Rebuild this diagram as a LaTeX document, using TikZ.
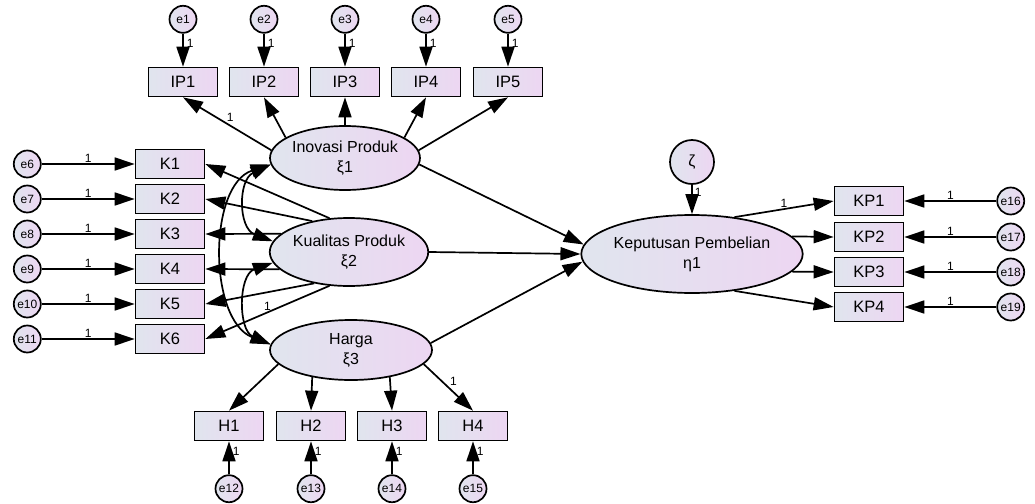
\documentclass[tikz,border=0pt]{standalone}
\usepackage{fontspec}
\setmainfont{Liberation Sans}
\usetikzlibrary{arrows.meta,positioning,shapes.geometric}
\definecolor{fillL}{RGB}{224,229,238}
\definecolor{fillR}{RGB}{237,214,242}
\tikzset{obs/.style={rectangle,draw=black,line width=1.7pt,left color=fillL,right color=fillR,minimum width=69pt,minimum height=29pt,inner sep=0pt,font=\fontsize{16.5}{18}\selectfont},
		lat/.style={ellipse,draw=black,line width=1.7pt,left color=fillL,right color=fillR,inner sep=0pt,align=center,font=\fontsize{16}{20}\selectfont},
		err/.style={circle,draw=black,line width=1.7pt,left color=fillL,right color=fillR,minimum size=27pt,inner sep=0pt,font=\fontsize{12}{12}\selectfont},
		post/.style={-{Triangle[length=20pt,width=13pt]},line width=1.7pt},
		cov/.style={{Triangle[length=20pt,width=13pt]}-{Triangle[length=20pt,width=13pt]},line width=1.7pt},
		one/.style={font=\fontsize{12}{12}\selectfont,inner sep=1pt}}
\begin{document}
\begin{tikzpicture}[x=1pt,y=-1pt]
		\useasboundingbox (0,0) rectangle (1035,503);
		% latent variables
		\node[lat,minimum width=150pt,minimum height=64pt] (inovasi-produk) at (345,158) {Inovasi Produk\\ξ1};
		\node[lat,minimum width=158pt,minimum height=68pt] (kualitas-produk) at (349,252) {Kualitas Produk\\ξ2};
		\node[lat,minimum width=162pt,minimum height=60pt] (harga) at (351,350) {Harga\\ξ3};
		\node[lat,minimum width=214pt,minimum height=78pt] (keputusan-pembelian) at (692,254) {Keputusan Pembelian\\η1};
		\node[err,minimum size=44pt,font=\fontsize{16}{16}\selectfont] (zeta) at (692,162) {ζ};
		
		% indicators
		\node[obs] (ip1) at (183,82) {IP1};
		\node[obs] (ip2) at (264,82) {IP2};
		\node[obs] (ip3) at (345,82) {IP3};
		\node[obs] (ip4) at (426,82) {IP4};
		\node[obs] (ip5) at (508,82) {IP5};
		\node[obs] (k1) at (170,164) {K1};
		\node[obs] (k2) at (170,199) {K2};
		\node[obs] (k3) at (170,234) {K3};
		\node[obs] (k4) at (170,269) {K4};
		\node[obs] (k5) at (170,304) {K5};
		\node[obs] (k6) at (170,339) {K6};
		\node[obs] (h1) at (229,426) {H1};
		\node[obs] (h2) at (311,426) {H2};
		\node[obs] (h3) at (392,426) {H3};
		\node[obs] (h4) at (473,426) {H4};
		\node[obs] (kp1) at (869,201) {KP1};
		\node[obs] (kp2) at (869,237) {KP2};
		\node[obs] (kp3) at (869,272) {KP3};
		\node[obs] (kp4) at (869,307) {KP4};
		
		% error terms
		\node[err] (e1) [above=33pt of ip1] {e1} edge[post] node[one,pos=0.3,right,xshift=2pt] {1} (ip1);
		\node[err] (e2) [above=33pt of ip2] {e2} edge[post] node[one,pos=0.3,right,xshift=2pt] {1} (ip2);
		\node[err] (e3) [above=33pt of ip3] {e3} edge[post] node[one,pos=0.3,right,xshift=2pt] {1} (ip3);
		\node[err] (e4) [above=33pt of ip4] {e4} edge[post] node[one,pos=0.3,right,xshift=2pt] {1} (ip4);
		\node[err] (e5) [above=33pt of ip5] {e5} edge[post] node[one,pos=0.3,right,xshift=2pt] {1} (ip5);
		\node[err] (e6) [left=93pt of k1] {e6} edge[post] node[one,midway,above] {1} (k1);
		\node[err] (e7) [left=93pt of k2] {e7} edge[post] node[one,midway,above] {1} (k2);
		\node[err] (e8) [left=93pt of k3] {e8} edge[post] node[one,midway,above] {1} (k3);
		\node[err] (e9) [left=93pt of k4] {e9} edge[post] node[one,midway,above] {1} (k4);
		\node[err] (e10) [left=93pt of k5] {e10} edge[post] node[one,midway,above] {1} (k5);
		\node[err] (e11) [left=93pt of k6] {e11} edge[post] node[one,midway,above] {1} (k6);
		\node[err] (e12) [below=33pt of h1] {e12} edge[post] node[one,pos=0.7,right,xshift=2pt] {1} (h1);
		\node[err] (e13) [below=33pt of h2] {e13} edge[post] node[one,pos=0.7,right,xshift=2pt] {1} (h2);
		\node[err] (e14) [below=33pt of h3] {e14} edge[post] node[one,pos=0.7,right,xshift=2pt] {1} (h3);
		\node[err] (e15) [below=33pt of h4] {e15} edge[post] node[one,pos=0.7,right,xshift=2pt] {1} (h4);
		\node[err] (e16) [right=92pt of kp1] {e16} edge[post] node[one,midway,above] {1} (kp1);
		\node[err] (e17) [right=92pt of kp2] {e17} edge[post] node[one,midway,above] {1} (kp2);
		\node[err] (e18) [right=92pt of kp3] {e18} edge[post] node[one,midway,above] {1} (kp3);
		\node[err] (e19) [right=92pt of kp4] {e19} edge[post] node[one,midway,above] {1} (kp4);
		
		% loadings
		\draw[post] (inovasi-produk.174) -- node[one,midway,above,xshift=3pt] {1} (ip1.south);
		\draw[post] (inovasi-produk.161) -- (ip2.south);
		\draw[post] (inovasi-produk.north) -- (ip3.south);
		\draw[post] (inovasi-produk.19) -- (ip4.south);
		\draw[post] (inovasi-produk.6) -- (ip5.south);
		\draw[post] (kualitas-produk.120) -- (k1.east);
		\draw[post] (kualitas-produk.140) -- (k2.east);
		\draw[post] (kualitas-produk.165) -- (k3.east);
		\draw[post] (kualitas-produk.194) -- (k4.east);
		\draw[post] (kualitas-produk.222) -- (k5.east);
		\draw[post] (kualitas-produk.240) -- node[one,midway,above] {1} (k6.east);
		\draw[post] (harga.191) -- (h1.north);
		\draw[post] (harga.215) -- (h2.north);
		\draw[post] (harga.325) -- (h3.north);
		\draw[post] (harga.349) -- node[one,midway,above right] {1} (h4.north);
		\draw[post] (keputusan-pembelian.41) -- node[one,midway,above] {1} (kp1.west);
		\draw[post] (keputusan-pembelian.10) -- (kp2.west);
		\draw[post] (keputusan-pembelian.350) -- (kp3.west);
		\draw[post] (keputusan-pembelian.319) -- (kp4.west);
		
		% structural paths
		\draw[post] (inovasi-produk.355) -- (keputusan-pembelian.175);
		\draw[post] (kualitas-produk.east) -- (keputusan-pembelian.west);
		\draw[post] (harga.5) -- (keputusan-pembelian.184);
		\draw[post] (zeta) -- node[one,pos=0.25,right,xshift=1pt] {1} (keputusan-pembelian);
		
		% covariances
		\draw[cov] (inovasi-produk.185) .. controls (208,185) and (208,320) .. (harga.176);
		\draw[cov] (inovasi-produk.185) .. controls (238,180) and (238,228) .. (kualitas-produk.172);
		\draw[cov] (kualitas-produk.188) .. controls (238,275) and (238,330) .. (harga.176);
	\end{tikzpicture}
\end{document}
